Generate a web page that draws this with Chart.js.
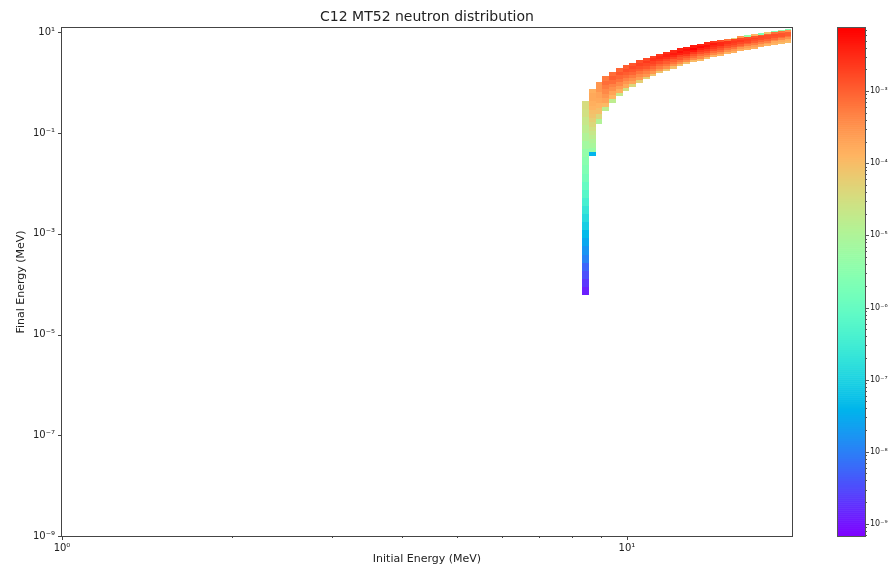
<!DOCTYPE html>
<html>
<head>
<meta charset="utf-8">
<script src="https://cdn.jsdelivr.net/npm/chart.js@4.4.1/dist/chart.umd.min.js"></script>
<style>
  html, body { margin: 0; padding: 0; background: #fff; }
  #wrap { position: relative; width: 889px; height: 566px; }
  #wrap canvas { position: absolute; left: 0; top: 0; }
</style>
</head>
<body>
<div id="wrap">
  <canvas id="heat" width="889" height="566"></canvas>
  <canvas id="cbar" width="889" height="566"></canvas>
</div>
<script>
const chartTitle = 'C12 MT52 neutron distribution';

// incident energy bin edges (MeV), one column per pair
const incidentEdges = [8.33, 8.56, 8.80, 9.05, 9.30, 9.56, 9.83, 10.10, 10.38, 10.67,
  10.97, 11.27, 11.59, 11.91, 12.25, 12.59, 12.94, 13.30, 13.67, 14.05,
  14.44, 14.85, 15.26, 15.69, 16.12, 16.57, 17.04, 17.51, 18.00, 18.50, 19.02, 19.55];

// final energy span of each column (MeV)
const bandTop = [0.44, 0.76, 1.05, 1.34, 1.63, 1.92, 2.2, 2.5, 2.8, 3.1,
  3.4, 3.75, 4.1, 4.4, 4.8, 5.1, 5.5, 5.9, 6.3, 6.7,
  7.1, 7.5, 7.9, 8.4, 8.8, 9.3, 9.8, 10.3, 10.8, 11.3, 11.8];
const bandBottom = [6.1e-5, 0.035, 0.15, 0.27, 0.40, 0.54, 0.69, 0.84, 1.0, 1.17,
  1.35, 1.53, 1.71, 1.91, 2.11, 2.32, 2.53, 2.75, 2.98, 3.21,
  3.45, 3.7, 3.95, 4.21, 4.48, 4.76, 5.04, 5.33, 5.64, 5.95, 6.26];

// cell values in each column, listed from top to bottom
const bandValues = [
  [3.5e-5, 3.0e-5, 2.2e-5, 1.6e-5, 1.1e-5, 7.0e-6, 4.3e-6, 3.1e-6, 2.3e-6, 1.6e-6, 1.0e-6, 6.2e-7,
   3.8e-7, 2.3e-7, 1.4e-7, 8.8e-8, 4.6e-8, 2.8e-8, 1.7e-8, 1.1e-8, 5.6e-9, 3.5e-9, 2.1e-9, 1.3e-9],
  [1.5e-4, 1.8e-4, 1.8e-4, 1.5e-4, 1.3e-4, 9.4e-5, 8.0e-5, 5.8e-5, 4.2e-5, 3.0e-5, 2.2e-5, 1.6e-5,
   1.1e-5, 8.3e-6, 5.1e-6, 3.9e-8],
  [2.9e-4, 2.9e-4, 2.1e-4, 1.8e-4, 1.3e-4, 9.4e-5, 4.2e-5, 1.1e-5],
  [5.6e-4, 7.7e-4, 5.6e-4, 4.0e-4, 2.9e-4, 2.1e-4, 1.1e-4, 1.6e-5],
  [7.7e-4, 1.1e-3, 7.7e-4, 4.7e-4, 3.4e-4, 2.1e-4, 1.3e-4, 1.6e-5],
  [9.1e-4, 1.3e-3, 9.1e-4, 6.6e-4, 4.0e-4, 2.5e-4, 1.5e-4, 2.2e-5],
  [1.1e-3, 1.5e-3, 1.1e-3, 7.7e-4, 4.7e-4, 2.9e-4, 1.8e-4, 3.0e-5],
  [1.3e-3, 1.7e-3, 1.3e-3, 9.1e-4, 5.6e-4, 3.4e-4, 2.1e-4, 4.2e-5],
  [1.5e-3, 2.0e-3, 1.5e-3, 1.1e-3, 6.6e-4, 4.0e-4, 2.5e-4, 5.8e-5],
  [1.7e-3, 2.4e-3, 1.7e-3, 1.3e-3, 7.7e-4, 4.7e-4, 2.9e-4, 5.8e-5],
  [2.0e-3, 2.8e-3, 2.0e-3, 1.5e-3, 9.1e-4, 5.6e-4, 2.9e-4, 8.0e-5],
  [2.4e-3, 3.3e-3, 2.4e-3, 1.5e-3, 9.1e-4, 5.6e-4, 2.9e-4, 8.0e-5],
  [2.8e-3, 3.9e-3, 2.8e-3, 1.7e-3, 1.1e-3, 6.6e-4, 3.4e-4, 8.0e-5],
  [3.3e-3, 4.6e-3, 3.3e-3, 2.0e-3, 1.1e-3, 6.6e-4, 3.4e-4, 9.4e-5],
  [3.9e-3, 5.4e-3, 3.9e-3, 2.0e-3, 1.3e-3, 6.6e-4, 3.4e-4, 9.4e-5],
  [3.9e-3, 5.4e-3, 3.9e-3, 2.4e-3, 1.3e-3, 7.7e-4, 4.0e-4, 9.4e-5],
  [4.6e-3, 7.4e-3, 4.6e-3, 2.4e-3, 1.3e-3, 7.7e-4, 4.0e-4, 1.1e-4],
  [3.9e-3, 6.3e-3, 3.9e-3, 2.4e-3, 1.5e-3, 7.7e-4, 4.0e-4, 1.1e-4],
  [3.3e-3, 5.4e-3, 3.9e-3, 2.4e-3, 1.5e-3, 7.7e-4, 4.0e-4, 1.1e-4],
  [2.4e-3, 4.6e-3, 3.3e-3, 2.4e-3, 1.5e-3, 7.7e-4, 4.0e-4, 1.3e-4],
  [1.5e-3, 3.3e-3, 3.3e-3, 2.0e-3, 1.3e-3, 7.7e-4, 3.4e-4, 1.3e-4],
  [6.6e-4, 2.8e-3, 2.8e-3, 2.0e-3, 1.3e-3, 6.6e-4, 3.4e-4, 1.3e-4],
  [5.8e-5, 2.0e-3, 2.4e-3, 2.0e-3, 1.3e-3, 6.6e-4, 2.9e-4, 1.5e-4],
  [2.9e-4, 1.7e-3, 2.4e-3, 1.7e-3, 1.1e-3, 6.6e-4, 2.9e-4, 1.5e-4],
  [5.1e-6, 1.5e-3, 2.0e-3, 1.7e-3, 1.1e-3, 5.6e-4, 2.5e-4, 1.5e-4],
  [1.3e-4, 1.3e-3, 2.0e-3, 1.5e-3, 1.1e-3, 5.6e-4, 2.5e-4, 1.5e-4],
  [2.3e-6, 1.1e-3, 1.7e-3, 1.5e-3, 9.1e-4, 4.7e-4, 2.1e-4, 1.5e-4],
  [8.0e-5, 9.1e-4, 1.5e-3, 1.5e-3, 9.1e-4, 4.7e-4, 2.1e-4, 1.3e-4],
  [2.3e-6, 7.7e-4, 1.5e-3, 1.3e-3, 7.7e-4, 4.0e-4, 1.8e-4, 1.3e-4],
  [5.1e-6, 6.6e-4, 1.3e-3, 1.3e-3, 7.7e-4, 4.0e-4, 1.8e-4, 1.1e-4],
  [2.3e-6, 2.9e-4, 1.1e-3, 1.1e-3, 6.6e-4, 3.4e-4, 1.5e-4, 1.1e-4]
];

// axes
const xMin = 1, xMax = 19.6;
const yMin = 1e-9, yMax = 12.2;
const xTicks = [1, 2, 3, 4, 5, 6, 7, 8, 9, 10];
const xTickLabelled = [1, 10];
const yTicks = [1e-9, 1e-7, 1e-5, 1e-3, 1e-1, 10];

// colour scale (log)
const colorMin = 6.8e-10, colorMax = 7.5e-3;
const cbMajor = [1e-9, 1e-8, 1e-7, 1e-6, 1e-5, 1e-4, 1e-3];

const FONT = 'DejaVu Sans';
const TEXT = '#222';

const sup = {'-': '\u207B', '0': '\u2070', '1': '\u00B9', '2': '\u00B2', '3': '\u00B3',
  '4': '\u2074', '5': '\u2075', '6': '\u2076', '7': '\u2077', '8': '\u2078', '9': '\u2079'};
function powLabel(v) {
  const e = Math.round(Math.log10(v));
  return '10' + String(e).split('').map(c => sup[c]).join('');
}

// matplotlib "rainbow"
function rainbow(t) {
  t = Math.max(0, Math.min(1, t));
  const r = Math.min(1, Math.abs(2 * t - 0.5));
  const g = Math.sin(Math.PI * t);
  const b = Math.cos(Math.PI * t / 2);
  return `rgb(${Math.round(r * 255)},${Math.round(g * 255)},${Math.round(b * 255)})`;
}
const lMin = Math.log10(colorMin), lMax = Math.log10(colorMax);
function colorFor(v) {
  return rainbow((Math.log10(v) - lMin) / (lMax - lMin));
}

const heatmapPlugin = {
  id: 'heatmap',
  beforeDatasetsDraw(chart) {
    const {ctx, chartArea: a, scales: {x, y}} = chart;
    ctx.save();
    ctx.beginPath();
    ctx.rect(a.left, a.top, a.width, a.height);
    ctx.clip();
    bandValues.forEach((vals, i) => {
      const x0 = Math.round(x.getPixelForValue(incidentEdges[i]));
      const x1 = Math.round(x.getPixelForValue(incidentEdges[i + 1]));
      const lt = Math.log10(bandTop[i]);
      const lb = Math.log10(bandBottom[i]);
      vals.forEach((v, j) => {
        const eHi = Math.pow(10, lt - (lt - lb) * j / vals.length);
        const eLo = Math.pow(10, lt - (lt - lb) * (j + 1) / vals.length);
        const y0 = Math.round(y.getPixelForValue(eHi));
        const y1 = Math.round(y.getPixelForValue(eLo));
        ctx.fillStyle = colorFor(v);
        ctx.fillRect(x0, y0, x1 - x0, y1 - y0);
      });
    });
    ctx.restore();
  }
};

const framePlugin = {
  id: 'frame',
  afterDraw(chart) {
    const {ctx, chartArea: a, scales: {x, y}} = chart;
    ctx.save();
    ctx.strokeStyle = '#444';
    ctx.lineWidth = 1;
    ctx.strokeRect(a.left - 0.5, a.top - 0.5, a.width + 1, a.height + 1);
    ctx.beginPath();
    xTicks.forEach(v => {
      const px = Math.round(x.getPixelForValue(v)) + 0.5;
      const len = xTickLabelled.includes(v) ? 4 : 2;
      ctx.moveTo(px, a.bottom);
      ctx.lineTo(px, a.bottom + len);
    });
    yTicks.forEach(v => {
      const py = Math.round(y.getPixelForValue(v)) + 0.5;
      ctx.moveTo(a.left, py);
      ctx.lineTo(a.left - 4, py);
    });
    ctx.stroke();
    ctx.fillStyle = TEXT;
    ctx.font = `14px "${FONT}"`;
    ctx.textAlign = 'center';
    ctx.textBaseline = 'middle';
    ctx.fillText(chartTitle, (a.left + a.right) / 2, 17);
    ctx.restore();
  }
};

new Chart(document.getElementById('heat'), {
  type: 'scatter',
  data: { datasets: [] },
  options: {
    responsive: false,
    animation: false,
    layout: { padding: { top: 28, right: 97, left: 0, bottom: 0 } },
    plugins: { legend: { display: false }, tooltip: { enabled: false } },
    scales: {
      x: {
        type: 'logarithmic', min: xMin, max: xMax,
        afterBuildTicks: s => { s.ticks = xTicks.map(v => ({ value: v })); },
        afterFit: s => { s.height = 30; },
        grid: { display: false, drawTicks: false }, border: { display: false },
        ticks: {
          autoSkip: false, maxRotation: 0, padding: 6, color: TEXT,
          font: { family: FONT, size: 10 },
          callback: v => xTickLabelled.includes(v) ? powLabel(v) : ''
        },
        title: { display: true, text: 'Initial Energy (MeV)', color: TEXT,
          font: { family: FONT, size: 11 }, padding: { top: 0, bottom: 0 } }
      },
      y: {
        type: 'logarithmic', min: yMin, max: yMax,
        afterBuildTicks: s => { s.ticks = yTicks.map(v => ({ value: v })); },
        afterFit: s => { s.width = 62; },
        grid: { display: false, drawTicks: false }, border: { display: false },
        ticks: {
          autoSkip: false, padding: 7, color: TEXT,
          font: { family: FONT, size: 10 },
          callback: v => powLabel(v)
        },
        title: { display: true, text: 'Final Energy (MeV)', color: TEXT,
          font: { family: FONT, size: 11 }, padding: { top: 15, bottom: 0 } }
      }
    }
  },
  plugins: [heatmapPlugin, framePlugin]
});

// colour bar
const cbMinor = [];
for (let e = -10; e <= -3; e++) {
  for (let m = 2; m <= 9; m++) {
    const v = m * Math.pow(10, e);
    if (v >= colorMin && v <= colorMax) cbMinor.push(v);
  }
}

const colorbarPlugin = {
  id: 'colorbar',
  beforeDatasetsDraw(chart) {
    const {ctx, chartArea: a, scales: {y}} = chart;
    const steps = 256;
    ctx.save();
    for (let k = 0; k < steps; k++) {
      const v0 = Math.pow(10, lMin + (lMax - lMin) * k / steps);
      const v1 = Math.pow(10, lMin + (lMax - lMin) * (k + 1) / steps);
      const y0 = y.getPixelForValue(v0);
      const y1 = y.getPixelForValue(v1);
      ctx.fillStyle = rainbow((k + 0.5) / steps);
      ctx.fillRect(a.left, y1, a.width, y0 - y1 + 0.6);
    }
    ctx.strokeStyle = '#555';
    ctx.lineWidth = 1;
    ctx.strokeRect(a.left - 0.5, a.top - 0.5, a.width + 1, a.height + 1);
    ctx.beginPath();
    cbMajor.forEach(v => {
      const py = Math.round(y.getPixelForValue(v)) + 0.5;
      ctx.moveTo(a.right, py); ctx.lineTo(a.right + 4, py);
    });
    cbMinor.forEach(v => {
      const py = Math.round(y.getPixelForValue(v)) + 0.5;
      ctx.moveTo(a.right, py); ctx.lineTo(a.right + 2, py);
    });
    ctx.stroke();
    ctx.restore();
  }
};

new Chart(document.getElementById('cbar'), {
  type: 'scatter',
  data: { datasets: [] },
  options: {
    responsive: false,
    animation: false,
    layout: { padding: { top: 28, right: 0, left: 838, bottom: 30 } },
    plugins: { legend: { display: false }, tooltip: { enabled: false } },
    scales: {
      x: { display: false, min: 0, max: 1 },
      y: {
        type: 'logarithmic', position: 'right', min: colorMin, max: colorMax,
        afterBuildTicks: s => { s.ticks = cbMajor.map(v => ({ value: v })); },
        afterFit: s => { s.width = 24; },
        grid: { display: false, drawTicks: false }, border: { display: false },
        ticks: {
          autoSkip: false, padding: 5, color: TEXT,
          font: { family: FONT, size: 8 },
          callback: v => powLabel(v)
        }
      }
    }
  },
  plugins: [colorbarPlugin]
});
</script>
</body>
</html>
